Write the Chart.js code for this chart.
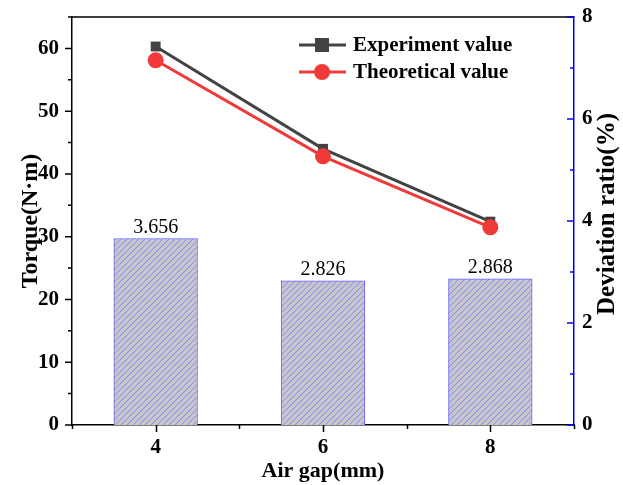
<!DOCTYPE html>
<html>
<head>
<meta charset="utf-8">
<script src="https://cdn.jsdelivr.net/npm/chart.js@4.4.1/dist/chart.umd.min.js"></script>
<style>
  html, body { margin: 0; padding: 0; background: #fff; }
  #wrap { width: 623px; height: 485px; }
</style>
</head>
<body>
<div id="wrap"><canvas id="c" width="623" height="485"></canvas></div>
<script>
// Torque vs air gap, with deviation ratio bars on the right axis

const airGaps = [4, 6, 8];
const experimentTorque = [60.3, 44.0, 32.4];
const theoreticalTorque = [58.1, 42.8, 31.5];
const deviationRatio = [3.656, 2.826, 2.868];

const FONT = "'Liberation Serif', 'Times New Roman', serif";

function hatchPattern() {
  const size = 6;
  const c = document.createElement('canvas');
  c.width = size;
  c.height = size;
  const g = c.getContext('2d');
  g.fillStyle = '#c6c6ca';
  g.fillRect(0, 0, size, size);
  g.fillStyle = '#8888ff';
  for (let i = 0; i < size; i++) {
    g.fillRect(i, size - 1 - i, 1, 1);
  }
  return g.createPattern(c, 'repeat');
}

const ctx = document.getElementById('c').getContext('2d');

const legendPlugin = {
  id: 'insideLegend',
  afterDatasetsDraw(chart) {
    const { ctx } = chart;
    const items = [
      { ds: chart.data.datasets[0], y: 45 },
      { ds: chart.data.datasets[1], y: 72 }
    ];
    ctx.save();
    items.forEach(({ ds, y }) => {
      ctx.strokeStyle = ds.borderColor;
      ctx.lineWidth = 3;
      ctx.beginPath();
      ctx.moveTo(299, y);
      ctx.lineTo(346, y);
      ctx.stroke();
      ctx.fillStyle = ds.backgroundColor;
      if (ds.pointStyle === 'rect') {
        ctx.fillRect(322 - 7, y - 7, 14, 14);
      } else {
        ctx.beginPath();
        ctx.arc(322, y, 8, 0, Math.PI * 2);
        ctx.fill();
      }
      ctx.fillStyle = '#000';
      ctx.font = 'bold 21px ' + FONT;
      ctx.textBaseline = 'middle';
      ctx.fillText(ds.label, 353, y + 1);
    });
    ctx.restore();
  }
};

const barLabelPlugin = {
  id: 'barLabels',
  afterDatasetsDraw(chart) {
    const { ctx } = chart;
    const meta = chart.getDatasetMeta(2);
    ctx.save();
    ctx.fillStyle = '#000';
    ctx.font = '20px ' + FONT;
    ctx.textAlign = 'center';
    ctx.textBaseline = 'bottom';
    meta.data.forEach((bar, i) => {
      ctx.fillText(deviationRatio[i].toFixed(3), bar.x, bar.y - 1);
    });
    ctx.restore();
  }
};

// tick marks: majors longer than minors; right axis ticks point inward
const tickPlugin = {
  id: 'customTicks',
  afterDraw(chart) {
    const { ctx, chartArea, scales } = chart;
    ctx.save();
    ctx.lineWidth = 1.5;

    ctx.strokeStyle = '#000';
    ctx.beginPath();
    scales.x.ticks.forEach((t) => {
      const px = Math.round(scales.x.getPixelForValue(t.value)) + 0.5;
      const len = t.value % 2 === 0 ? 7 : 4;
      ctx.moveTo(px, chartArea.bottom);
      ctx.lineTo(px, chartArea.bottom + len);
    });
    scales.y.ticks.forEach((t) => {
      const py = scales.y.getPixelForValue(t.value);
      const len = t.value % 10 === 0 ? 7 : 4;
      ctx.moveTo(chartArea.left, py);
      ctx.lineTo(chartArea.left - len, py);
    });
    // top border
    ctx.moveTo(chartArea.left, chartArea.top);
    ctx.lineTo(chartArea.right, chartArea.top);
    ctx.stroke();

    ctx.strokeStyle = '#0000ff';
    ctx.beginPath();
    scales.y1.ticks.forEach((t) => {
      const py = scales.y1.getPixelForValue(t.value);
      const len = t.value % 2 === 0 ? 7 : 4;
      ctx.moveTo(chartArea.right, py);
      ctx.lineTo(chartArea.right - len, py);
    });
    ctx.stroke();

    // right axis title, reading bottom to top
    ctx.fillStyle = '#000';
    ctx.font = 'bold 25px ' + FONT;
    ctx.textAlign = 'center';
    ctx.textBaseline = 'middle';
    ctx.translate(608, 214);
    ctx.rotate(-Math.PI / 2);
    ctx.fillText('Deviation ratio(%)', 0, 0);
    ctx.restore();
  }
};

new Chart(ctx, {
  type: 'bar',
  data: {
    datasets: [
      {
        type: 'line',
        label: 'Experiment value',
        data: airGaps.map((x, i) => ({ x, y: experimentTorque[i] })),
        borderColor: '#434343',
        backgroundColor: '#434343',
        borderWidth: 3,
        pointStyle: 'rect',
        pointRadius: 7,
        pointBorderWidth: 0,
        yAxisID: 'y',
        order: 1
      },
      {
        type: 'line',
        label: 'Theoretical value',
        data: airGaps.map((x, i) => ({ x, y: theoreticalTorque[i] })),
        borderColor: '#f03a3a',
        backgroundColor: '#f03a3a',
        borderWidth: 3,
        pointStyle: 'circle',
        pointRadius: 8,
        pointBorderWidth: 0,
        yAxisID: 'y',
        order: 0
      },
      {
        type: 'bar',
        label: 'Deviation ratio',
        data: airGaps.map((x, i) => ({ x, y: deviationRatio[i] })),
        backgroundColor: hatchPattern(),
        borderColor: '#6666ff',
        borderWidth: 1,
        barPercentage: 1,
        categoryPercentage: 1,
        yAxisID: 'y1',
        order: 2
      }
    ]
  },
  options: {
    responsive: false,
    animation: false,
    layout: { padding: { top: 17, left: 0, right: 0, bottom: 0 } },
    plugins: {
      legend: { display: false },
      tooltip: { enabled: false }
    },
    scales: {
      x: {
        type: 'linear',
        min: 3,
        max: 9,
        offset: false,
        afterFit: (s) => { s.height = 60; s.paddingLeft = 0; s.paddingRight = 0; },
        border: { color: '#000', width: 1.5 },
        grid: { display: false, drawTicks: false },
        ticks: {
          stepSize: 1,
          color: '#000',
          padding: 10,
          font: { family: FONT, size: 21, weight: 'bold' },
          callback: (v) => (v % 2 === 0 ? v : '')
        },
        title: {
          display: true,
          text: 'Air gap(mm)',
          color: '#000',
          padding: { top: 0, bottom: 0 },
          font: { family: FONT, size: 22, weight: 'bold' }
        }
      },
      y: {
        position: 'left',
        min: 0,
        max: 65,
        afterFit: (s) => { s.width = 72; s.paddingTop = 0; s.paddingBottom = 0; },
        border: { color: '#000', width: 1.5 },
        grid: { display: false, drawTicks: false },
        ticks: {
          stepSize: 5,
          color: '#000',
          padding: 13,
          font: { family: FONT, size: 21, weight: 'bold' },
          callback: (v) => (v % 10 === 0 ? v : '')
        },
        title: {
          display: true,
          text: 'Torque(N·m)',
          color: '#000',
          padding: { top: 16, bottom: 0 },
          font: { family: FONT, size: 24, weight: 'bold' }
        }
      },
      y1: {
        position: 'right',
        min: 0,
        max: 8,
        afterFit: (s) => { s.width = 49; s.paddingTop = 0; s.paddingBottom = 0; },
        border: { color: '#0000ff', width: 1.5 },
        grid: { display: false, drawTicks: false },
        ticks: {
          stepSize: 1,
          color: '#000',
          padding: 8,
          font: { family: FONT, size: 21, weight: 'bold' },
          callback: (v) => (v % 2 === 0 ? v : '')
        }
      }
    }
  },
  plugins: [legendPlugin, barLabelPlugin, tickPlugin]
});
</script>
</body>
</html>
